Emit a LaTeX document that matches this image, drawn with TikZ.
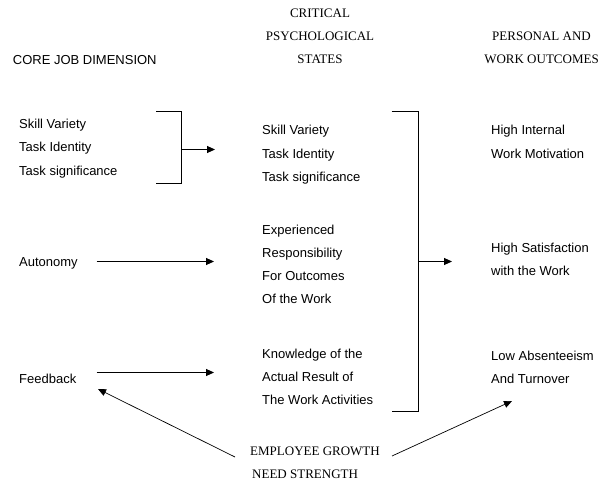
\documentclass[tikz,border=0pt]{standalone}
\usepackage{fontspec}
\setmainfont{Liberation Sans}
\newfontfamily\headserif{Liberation Serif}
\usetikzlibrary{arrows.meta}

\tikzset{
  txt/.style={anchor=base west, inner sep=0pt, font=\fontsize{13}{15}\selectfont},
  head/.style={anchor=base, inner sep=0pt, font=\headserif\fontsize{13}{15}\selectfont},
  headw/.style={anchor=base west, inner sep=0pt, font=\headserif\fontsize{13}{15}\selectfont},
  link/.style={line width=0.9pt, black},
  flow/.style={link, -{Triangle[length=8pt,width=7pt]}},
}

\begin{document}
\begin{tikzpicture}[x=1pt, y=-1pt]
\useasboundingbox (0,0) rectangle (600,485);

% column headings
\node[txt] (hcore) at (12.7,64.5) {CORE JOB DIMENSION};
\node[head] (hcrit1) at (320,17) {CRITICAL};
\node[head] (hcrit2) at (320,40) {PSYCHOLOGICAL};
\node[head] (hcrit3) at (320,63.5) {STATES};
\node[head] (hout1) at (541.5,40.3) {PERSONAL AND};
\node[head] (hout2) at (541.5,63) {WORK OUTCOMES};

% core job dimensions
\node[txt] (cSkill) at (19,128) {Skill Variety};
\node[txt] (cIdent) at (19,151.5) {Task Identity};
\node[txt] (cSignif) at (19,175) {Task significance};
\node[txt] (cAuto) at (19,266) {Autonomy};
\node[txt] (cFeed) at (19,383.5) {Feedback};

% critical psychological states
\node[txt] (mSkill) at (262,134.5) {Skill Variety};
\node[txt] (mIdent) at (262,158) {Task Identity};
\node[txt] (mSignif) at (262,181.5) {Task significance};
\node[txt] (mExp1) at (262,234) {Experienced};
\node[txt] (mExp2) at (262,257) {Responsibility};
\node[txt] (mExp3) at (262,280.3) {For Outcomes};
\node[txt] (mExp4) at (262,303.5) {Of the Work};
\node[txt] (mKnow1) at (262,358) {Knowledge of the};
\node[txt] (mKnow2) at (262,381.3) {Actual Result of};
\node[txt] (mKnow3) at (262,404.6) {The Work Activities};

% personal and work outcomes
\node[txt] (oInt1) at (491,134.5) {High Internal};
\node[txt] (oInt2) at (491,158) {Work Motivation};
\node[txt] (oSat1) at (491,252.5) {High Satisfaction};
\node[txt] (oSat2) at (491,275.8) {with the Work};
\node[txt] (oAbs1) at (491,360) {Low Absenteeism};
\node[txt] (oAbs2) at (491,383.3) {And Turnover};

% moderator
\node[headw] (grow1) at (250,455.5) {EMPLOYEE GROWTH};
\node[headw] (grow2) at (252,478.5) {NEED STRENGTH};

% bracket joining the three task dimensions
\coordinate (b1tl) at (156,111);
\coordinate (b1tr) at (181,111);
\coordinate (b1br) at (181,183);
\coordinate (b1bl) at (156,183);
\coordinate (b1mid) at (181,149.5);
\coordinate (b1tip) at (215,149.5);
\draw[link] (b1tl) -- (b1tr) -- (b1br) -- (b1bl);
\draw[flow] (b1mid) -- (b1tip);

% bracket joining the psychological states
\coordinate (b2tl) at (391.5,111);
\coordinate (b2tr) at (418,111);
\coordinate (b2br) at (418,411);
\coordinate (b2bl) at (391.5,411);
\coordinate (b2mid) at (418,261.5);
\coordinate (b2tip) at (452,261.5);
\draw[link] (b2tl) -- (b2tr) -- (b2br) -- (b2bl);
\draw[flow] (b2mid) -- (b2tip);

% single dimension arrows
\coordinate (aAutoS) at (96.5,261.5);
\coordinate (aAutoE) at (214,261.5);
\coordinate (aFeedS) at (96.5,372.5);
\coordinate (aFeedE) at (214,372.5);
\draw[flow] (aAutoS) -- (aAutoE);
\draw[flow] (aFeedS) -- (aFeedE);

% growth need strength arrows
\coordinate (gL) at (235,457);
\coordinate (gLtip) at (98,389);
\coordinate (gR) at (392,456);
\coordinate (gRtip) at (512,401);
\draw[flow, line width=0.7pt] (gL) -- (gLtip);
\draw[flow, line width=0.7pt] (gR) -- (gRtip);
\end{tikzpicture}
\end{document}
